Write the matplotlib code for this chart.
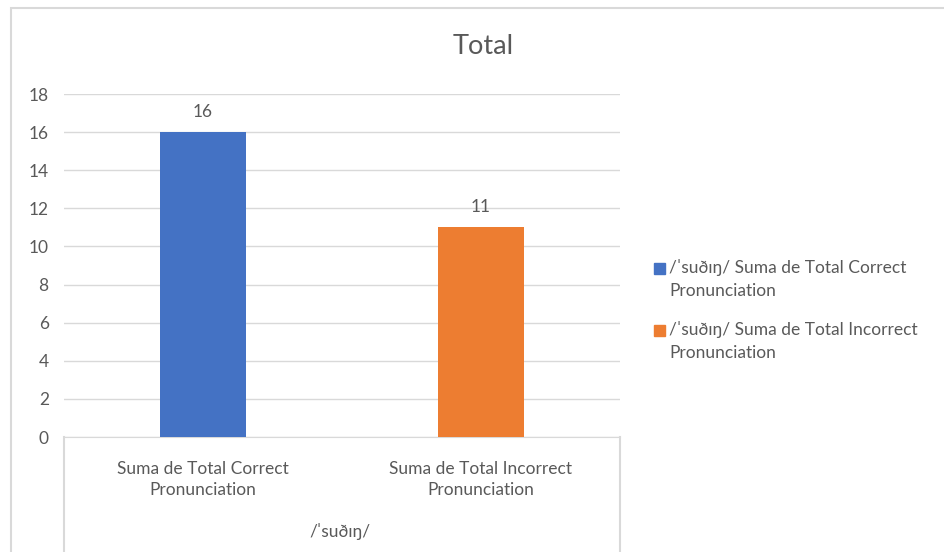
import matplotlib
matplotlib.use("Agg")
import matplotlib.pyplot as plt
from matplotlib.lines import Line2D
from matplotlib.patches import Rectangle

plt.rcParams['font.family'] = ['Lato', 'DejaVu Sans']

# ---- data ----
categories = ["Suma de Total Correct\nPronunciation",
              "Suma de Total Incorrect\nPronunciation"]
values = [16, 11]
group_label = "/ˈsuðɪŋ/"
series_names = ["/ˈsuðɪŋ/ Suma de Total Correct\nPronunciation",
                "/ˈsuðɪŋ/ Suma de Total Incorrect\nPronunciation"]
colors = ["#4472C4", "#ED7D31"]
title = "Total"

TXT = "#595959"
GRID = "#D9D9D9"
FS = 12.5

fig = plt.figure(figsize=(9.45, 5.52), dpi=100)
W, H = 945, 552

# outer chart border (runs off right/bottom edge like the screenshot)
fig.patches.append(Rectangle((11 / W, -0.1), 1.2, (H - 8) / H + 0.1,
                             transform=fig.transFigure, fill=False,
                             edgecolor="#D9D9D9", lw=1.5))

ax = fig.add_axes([64 / W, 115 / H, 556 / W, 343 / H])
x = range(len(values))
bars = ax.bar(x, values, width=0.31, color=colors, zorder=3)

ax.set_xlim(-0.5, 1.5)
ax.set_ylim(0, 18)
ax.set_yticks(range(0, 19, 2))
ax.yaxis.grid(True, color=GRID, lw=1, zorder=0)
for s in ["top", "right", "left"]:
    ax.spines[s].set_visible(False)
ax.spines["bottom"].set_color(GRID)
ax.tick_params(axis="y", length=0, pad=11, labelsize=FS, labelcolor=TXT)
ax.tick_params(axis="x", length=0, pad=17, labelsize=FS, labelcolor=TXT)
ax.set_xticks(list(x))
ax.set_xticklabels(categories, linespacing=1.45)

for b, v in zip(bars, values):
    ax.annotate(str(v), (b.get_x() + b.get_width() / 2, v),
                xytext=(0, 9), textcoords="offset points",
                ha="center", va="bottom", fontsize=FS, color=TXT)

# category box lines below axis
for xx in (0.0, 1.0):
    ax.add_line(Line2D([xx, xx], [0, -0.35], transform=ax.transAxes,
                       color=GRID, lw=1.5, clip_on=False))

ax.text(0.497, -0.275, group_label, transform=ax.transAxes, ha="center",
        va="center", fontsize=FS, color=TXT)

fig.text(483 / W, 1 - 47 / H, title, ha="center", va="center",
         fontsize=19.5, color=TXT)

# legend, Excel style: marker aligned with the first text line
for i, (name, c) in enumerate(zip(series_names, colors)):
    yc = 269 + i * 62
    fig.patches.append(Rectangle((654 / W, 1 - (yc + 5) / H), 11 / W, 11 / H,
                                 transform=fig.transFigure, color=c))
    fig.text(669 / W, 1 - (yc - 10) / H, name, ha="left", va="top",
             fontsize=FS, color=TXT, linespacing=1.55)

fig.savefig("out.png", dpi=100)
